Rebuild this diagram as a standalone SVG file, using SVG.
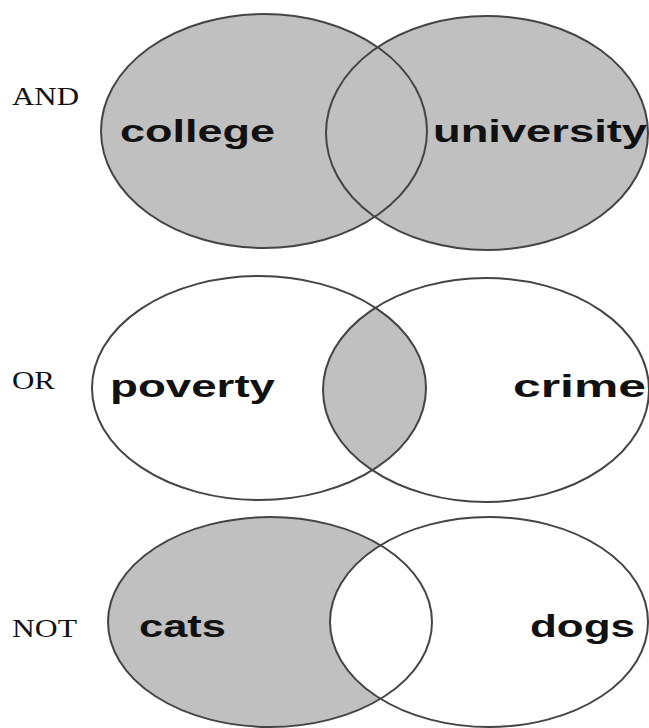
<svg xmlns="http://www.w3.org/2000/svg" width="649" height="728" viewBox="0 0 649 728">
<style>
.op{font-family:"Liberation Serif","Times New Roman",serif;font-size:26px;fill:#111}
.lb{font-family:"Liberation Sans",Arial,sans-serif;font-weight:bold;font-size:32px;fill:#111}
.ln{fill:none;stroke:#444;stroke-width:2}
.sh{fill:#c0c0c0}
.wh{fill:#fff}
</style>
<defs>
<clipPath id="midL"><ellipse cx="259" cy="388" rx="167" ry="112"/></clipPath>
</defs>
<rect width="649" height="728" fill="#fff"/>
<g id="and">
<ellipse class="sh" cx="264" cy="131" rx="163" ry="117"/>
<ellipse class="sh" cx="487" cy="133" rx="161" ry="117"/>
<ellipse class="ln" cx="264" cy="131" rx="163" ry="117"/>
<ellipse class="ln" cx="487" cy="133" rx="161" ry="117"/>
<text class="op" x="12" y="105" textLength="67" lengthAdjust="spacingAndGlyphs">AND</text>
<text class="lb" x="120" y="142" textLength="155" lengthAdjust="spacingAndGlyphs">college</text>
<text class="lb" x="433" y="142" textLength="214" lengthAdjust="spacingAndGlyphs">university</text>
</g>
<g id="or">
<ellipse class="sh" cx="486" cy="390" rx="163" ry="112" clip-path="url(#midL)"/>
<ellipse class="ln" cx="259" cy="388" rx="167" ry="112"/>
<ellipse class="ln" cx="486" cy="390" rx="163" ry="112"/>
<text class="op" x="12" y="389" textLength="43" lengthAdjust="spacingAndGlyphs">OR</text>
<text class="lb" x="110" y="397" textLength="165" lengthAdjust="spacingAndGlyphs">poverty</text>
<text class="lb" x="513" y="397" textLength="133" lengthAdjust="spacingAndGlyphs">crime</text>
</g>
<g id="not">
<ellipse class="sh" cx="270" cy="622" rx="162" ry="105"/>
<ellipse class="wh" cx="489" cy="622" rx="159" ry="105"/>
<ellipse class="ln" cx="270" cy="622" rx="162" ry="105"/>
<ellipse class="ln" cx="489" cy="622" rx="159" ry="105"/>
<text class="op" x="12" y="637" textLength="65" lengthAdjust="spacingAndGlyphs">NOT</text>
<text class="lb" x="139" y="637" textLength="87" lengthAdjust="spacingAndGlyphs">cats</text>
<text class="lb" x="530" y="637" textLength="105" lengthAdjust="spacingAndGlyphs">dogs</text>
</g>
</svg>
